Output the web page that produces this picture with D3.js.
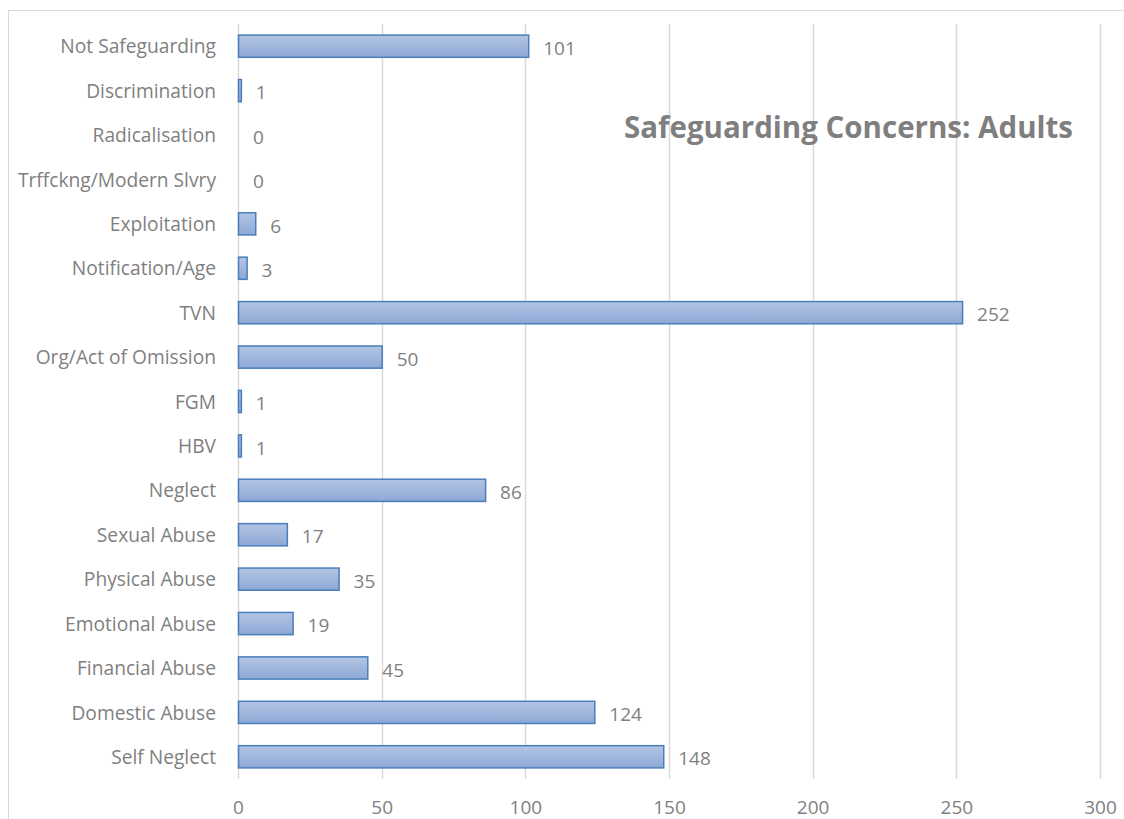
<!DOCTYPE html>
<html><head><meta charset="utf-8">
<script src="https://cdn.jsdelivr.net/npm/d3@7"></script>
<style>body{margin:0;background:#fff;}svg{display:block;font-family:"Open Sans","Noto Sans",sans-serif;}</style>
</head><body><svg id="c" width="1124" height="819"></svg>
<script>
const categories = ["Not Safeguarding","Discrimination","Radicalisation","Trffckng/Modern Slvry","Exploitation","Notification/Age","TVN","Org/Act of Omission","FGM","HBV","Neglect","Sexual Abuse","Physical Abuse","Emotional Abuse","Financial Abuse","Domestic Abuse","Self Neglect"];
const values = [101,1,0,0,6,3,252,50,1,1,86,17,35,19,45,124,148];
const xTicks = [0,50,100,150,200,250,300];
const title = "Safeguarding Concerns: Adults";

const svg = d3.select("#c");
const defs = svg.append("defs");
const g = defs.append("linearGradient").attr("id","bg").attr("x1",0).attr("y1",0).attr("x2",0).attr("y2",1);
g.append("stop").attr("offset","0%").attr("stop-color","#b3c5e3");
g.append("stop").attr("offset","100%").attr("stop-color","#8da8d6");

// frame
svg.append("line").attr("x1",8).attr("x2",1124).attr("y1",10.5).attr("y2",10.5).attr("stroke","#d9d9d9");
svg.append("line").attr("x1",8.5).attr("x2",8.5).attr("y1",10).attr("y2",819).attr("stroke","#d9d9d9");

const x = d3.scaleLinear().domain([0,300]).range([238,1100]);
const y = d3.scaleBand().domain(categories).range([24,779]).paddingInner(0.5).paddingOuter(0.25);

// grid
svg.append("g").selectAll("line").data(xTicks).join("line")
  .attr("x1",d=>Math.round(x(d))+0.5).attr("x2",d=>Math.round(x(d))+0.5)
  .attr("y1",24).attr("y2",779).attr("stroke","#d9d9d9").attr("stroke-width",1.5);

// x labels
const xAxis = d3.axisBottom(x).tickValues(xTicks).tickSize(0).tickPadding(0);
const ax = svg.append("g").attr("transform","translate(0,800)").call(xAxis);
ax.select(".domain").remove();
ax.selectAll("text").attr("font-size",19).attr("fill","#7f7f7f").attr("font-family","Open Sans, sans-serif").attr("dy","0.71em");

// y labels
const yAxis = d3.axisLeft(y).tickSize(0).tickPadding(0);
const ay = svg.append("g").attr("transform","translate(216,1)").call(yAxis);
ay.select(".domain").remove();
ay.selectAll("text").attr("font-size",19.2).attr("fill","#7f7f7f").attr("font-family","Open Sans, sans-serif");

// bars
svg.append("g").selectAll("rect").data(values).join("rect")
  .attr("x",x(0)+0.5)
  .attr("y",(d,i)=>y(categories[i]))
  .attr("width",d=>Math.max(0,x(d)-x(0)))
  .attr("height",y.bandwidth())
  .attr("fill","url(#bg)")
  .attr("stroke",d=>d>0?"#4a7ebb":"none").attr("stroke-width",1.5);

// value labels
svg.append("g").selectAll("text").data(values).join("text")
  .attr("x",d=>x(d)+15)
  .attr("y",(d,i)=>y(categories[i])+y.bandwidth()/2+2)
  .attr("dy","0.35em")
  .attr("font-size",19).attr("fill","#7f7f7f")
  .text(d=>d);

// title
svg.append("text").attr("x",1073).attr("y",138).attr("text-anchor","end")
  .attr("font-size",29.5).attr("font-weight","bold").attr("fill","#7f7f7f").text(title);
</script></body></html>
